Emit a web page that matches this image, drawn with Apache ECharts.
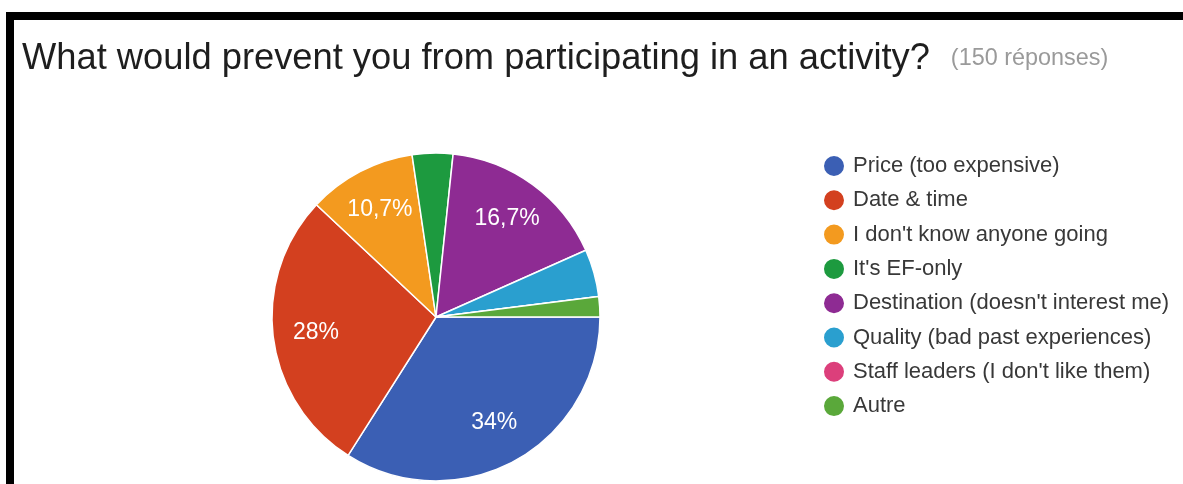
<!DOCTYPE html>
<html>
<head>
<meta charset="utf-8">
<script src="https://cdn.jsdelivr.net/npm/echarts@6/dist/echarts.min.js"></script>
<style>
  html, body { margin: 0; padding: 0; background: #fff; }
  #chart { width: 1183px; height: 484px; }
</style>
</head>
<body>
<div id="chart"></div>
<script>
// Survey question and answer categories
const questionTitle = 'What would prevent you from participating in an activity?';
const responseNote = '(150 réponses)';
const categories = [
  'Price (too expensive)',
  'Date & time',
  "I don't know anyone going",
  "It's EF-only",
  "Destination (doesn't interest me)",
  'Quality (bad past experiences)',
  "Staff leaders (I don't like them)",
  'Autre'
];
// Number of respondents per answer (150 total)
const counts = [51, 42, 16, 6, 25, 7, 0, 3];
const sliceColors = ['#3b5fb4', '#d3401f', '#f39a1f', '#1d9a3f', '#8e2b93', '#2a9fcf', '#dc3f7b', '#5aa83a'];

const total = counts.reduce((a, b) => a + b, 0);
const pieData = categories.map((name, i) => ({ name, value: counts[i] }));

// Percent text in French style: one decimal, comma separator, hidden on thin slices
function pctLabel(p) {
  const pct = p.value / total * 100;
  if (pct < 5) return '';
  let s = (Math.round(pct * 10) / 10).toString();
  return s.replace('.', ',') + '%';
}

const FONT = '"Liberation Sans", Arial, Helvetica, sans-serif';
const chart = echarts.init(document.getElementById('chart'), null, { renderer: 'canvas' });

chart.setOption({
  backgroundColor: '#ffffff',
  animation: false,
  color: sliceColors,
  title: {
    left: 17,
    top: 36,
    text: '{main|' + questionTitle + '}{note|' + responseNote + '}',
    textStyle: {
      fontWeight: 'normal',
      rich: {
        main: { fontFamily: FONT, fontSize: 36.3, fontWeight: 'normal', color: '#1e1e1e' },
        note: { fontFamily: FONT, fontSize: 23.4, fontWeight: 'normal', color: '#9a9a9a', padding: [0, 0, 0, 21] }
      }
    }
  },
  legend: {
    orient: 'vertical',
    left: 822,
    top: 154,
    padding: 0,
    icon: 'circle',
    itemWidth: 22,
    itemHeight: 22,
    itemGap: 10.3,
    selectedMode: false,
    data: categories,
    textStyle: { fontFamily: FONT, fontSize: 22, color: '#383838', lineHeight: 22, padding: [0, 0, 0, 3] }
  },
  graphic: [
    { type: 'rect', shape: { x: 6, y: 12, width: 1177, height: 8 }, style: { fill: '#000' }, silent: true },
    { type: 'rect', shape: { x: 6, y: 12, width: 8, height: 472 }, style: { fill: '#000' }, silent: true }
  ],
  series: [
    {
      type: 'pie',
      center: [436, 317],
      radius: [0, 164],
      startAngle: 0,
      clockwise: true,
      avoidLabelOverlap: false,
      label: { show: false },
      labelLine: { show: false },
      itemStyle: { borderColor: '#ffffff', borderWidth: 1.5 },
      emphasis: { disabled: true },
      data: pieData
    },
    {
      // transparent ring used only to place the percent labels at ~72% of the radius
      type: 'pie',
      center: [436, 317],
      radius: [72, 164],
      startAngle: 0,
      clockwise: true,
      silent: true,
      avoidLabelOverlap: false,
      itemStyle: { color: 'rgba(0,0,0,0)', borderWidth: 0 },
      label: {
        show: true,
        position: 'inside',
        formatter: pctLabel,
        fontFamily: FONT,
        fontSize: 23,
        color: '#ffffff'
      },
      labelLine: { show: false },
      emphasis: { disabled: true },
      data: pieData
    }
  ]
});
</script>
</body>
</html>
